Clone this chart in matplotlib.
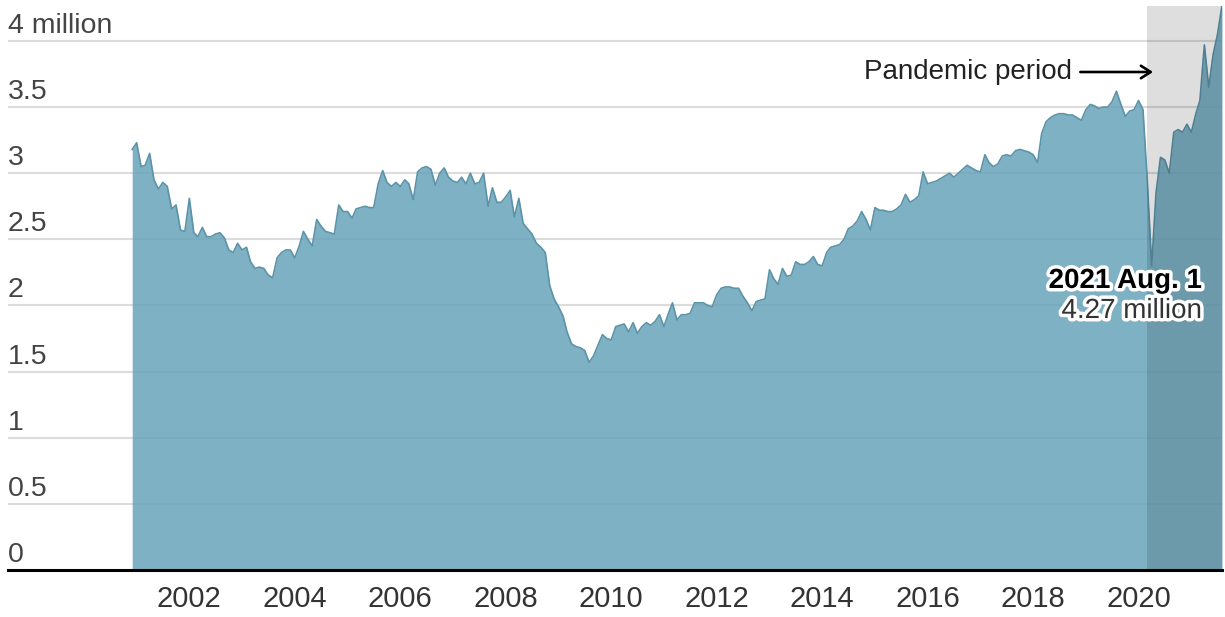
import matplotlib
matplotlib.use('Agg')
import matplotlib.pyplot as plt
import matplotlib.transforms as mtransforms
import matplotlib.patheffects as pe
import pandas as pd

# monthly quits, millions, Dec 2000 - Aug 2021
quits = [
    3.18,
    3.23, 3.05, 3.06, 3.15, 2.95, 2.88, 2.93, 2.90, 2.73, 2.76, 2.57, 2.56,  # 2001
    2.81, 2.55, 2.52, 2.59, 2.52, 2.52, 2.54, 2.55, 2.51, 2.42, 2.40, 2.47,  # 2002
    2.42, 2.44, 2.33, 2.28, 2.29, 2.28, 2.23, 2.21, 2.36, 2.40, 2.42, 2.42,  # 2003
    2.36, 2.45, 2.56, 2.50, 2.45, 2.65, 2.60, 2.56, 2.55, 2.54, 2.76, 2.71,  # 2004
    2.71, 2.66, 2.73, 2.74, 2.75, 2.74, 2.74, 2.92, 3.02, 2.93, 2.90, 2.93,  # 2005
    2.90, 2.95, 2.92, 2.80, 3.01, 3.04, 3.05, 3.03, 2.91, 3.00, 3.04, 2.97,  # 2006
    2.94, 2.93, 2.97, 2.92, 3.00, 2.92, 2.93, 3.00, 2.75, 2.89, 2.78, 2.78,  # 2007
    2.82, 2.87, 2.67, 2.81, 2.62, 2.58, 2.54, 2.47, 2.44, 2.40, 2.15, 2.05,  # 2008
    1.99, 1.92, 1.80, 1.71, 1.69, 1.68, 1.66, 1.57, 1.62, 1.70, 1.78, 1.75,  # 2009
    1.74, 1.84, 1.85, 1.86, 1.80, 1.87, 1.79, 1.84, 1.87, 1.85, 1.88, 1.93,  # 2010
    1.84, 1.94, 2.02, 1.89, 1.93, 1.93, 1.94, 2.02, 2.02, 2.02, 2.00, 1.99,  # 2011
    2.08, 2.13, 2.14, 2.14, 2.13, 2.13, 2.07, 2.02, 1.96, 2.03, 2.04, 2.05,  # 2012
    2.27, 2.20, 2.16, 2.28, 2.22, 2.23, 2.33, 2.31, 2.31, 2.33, 2.37, 2.31,  # 2013
    2.30, 2.40, 2.44, 2.45, 2.46, 2.50, 2.58, 2.60, 2.64, 2.71, 2.65, 2.57,  # 2014
    2.74, 2.72, 2.72, 2.71, 2.71, 2.73, 2.76, 2.84, 2.78, 2.80, 2.83, 3.01,  # 2015
    2.92, 2.93, 2.94, 2.96, 2.98, 3.00, 2.97, 3.00, 3.03, 3.06, 3.04, 3.02,  # 2016
    3.01, 3.14, 3.08, 3.05, 3.07, 3.13, 3.14, 3.13, 3.17, 3.18, 3.17, 3.16,  # 2017
    3.14, 3.08, 3.30, 3.39, 3.42, 3.44, 3.45, 3.45, 3.44, 3.44, 3.42, 3.40,  # 2018
    3.48, 3.52, 3.51, 3.49, 3.50, 3.50, 3.54, 3.62, 3.52, 3.43, 3.47, 3.48,  # 2019
    3.55, 3.48, 2.95, 2.30, 2.85, 3.12, 3.10, 3.00, 3.31, 3.33, 3.31, 3.37,  # 2020
    3.31, 3.45, 3.55, 3.97, 3.65, 3.90, 4.05, 4.27,                          # 2021
]
start_month = '2000-12-01'
pandemic_start = '2020-03-01'
tick_years = [2002, 2004, 2006, 2008, 2010, 2012, 2014, 2016, 2018, 2020]
y_ticks = [0, 0.5, 1, 1.5, 2, 2.5, 3, 3.5, 4]
y_labels = ['0', '0.5', '1', '1.5', '2', '2.5', '3', '3.5', '4 million']

plt.rcParams['font.family'] = ['Liberation Sans', 'DejaVu Sans']

months = pd.date_range(start_month, periods=len(quits), freq='MS')

fig = plt.figure(figsize=(12.25, 6.17), dpi=100)
ax = fig.add_axes([8 / 1225, 47 / 617, 1214 / 1225, 564.5 / 617])

# gridlines under the area
for v in y_ticks[1:]:
    ax.axhline(v, color='#dcdcdc', lw=1.5, zorder=1)

ax.fill_between(months, quits, color='#68a4ba', alpha=0.85, lw=0, zorder=2)
ax.plot(months, quits, color='#5b93a8', lw=1.2, zorder=3)
ax.axvspan(pd.Timestamp(pandemic_start), months[-1], color='black', alpha=0.13, lw=0, zorder=4)
ax.axhline(0, color='black', lw=2.2, zorder=5, clip_on=False)

ax.set_xlim(pd.Timestamp('1998-07-25'), months[-1])
ax.set_ylim(0, 4.268)

for s in ax.spines.values():
    s.set_visible(False)
ax.set_yticks([])
ax.set_xticks([pd.Timestamp(f'{y}-01-01') for y in tick_years])
ax.set_xticklabels([str(y) for y in tick_years])
ax.tick_params(axis='x', length=0, pad=11, labelsize=21, labelcolor='#333333')

# y labels sit just above their gridline
lab_trans = mtransforms.offset_copy(ax.get_yaxis_transform(), fig=fig, x=0, y=8, units='dots')
for v, lab in zip(y_ticks, y_labels):
    ax.text(0, v, lab, transform=lab_trans, ha='left', va='baseline',
            fontsize=20.5, color='#444444', zorder=6)

# annotations
ax.text(0.8765, 0.8822, 'Pandemic period', transform=ax.transAxes, ha='right', va='center',
        fontsize=20, color='#222222', zorder=6)
ax.annotate('', xy=(0.9455, 0.8822), xytext=(0.881, 0.8822), xycoords='axes fraction',
            arrowprops=dict(arrowstyle='->,head_length=0.7,head_width=0.45',
                            color='black', lw=1.9), zorder=6)

halo = [pe.withStroke(linewidth=5, foreground='white')]
ax.text(0.9835, 0.4996, '2021 Aug. 1', transform=ax.transAxes, ha='right', va='baseline',
        fontsize=20, fontweight='bold', color='black', path_effects=halo, zorder=7)
ax.text(0.9835, 0.4464, '4.27 million', transform=ax.transAxes, ha='right', va='baseline',
        fontsize=20, color='#333333', path_effects=halo, zorder=7)

fig.savefig('out.png', dpi=100)
